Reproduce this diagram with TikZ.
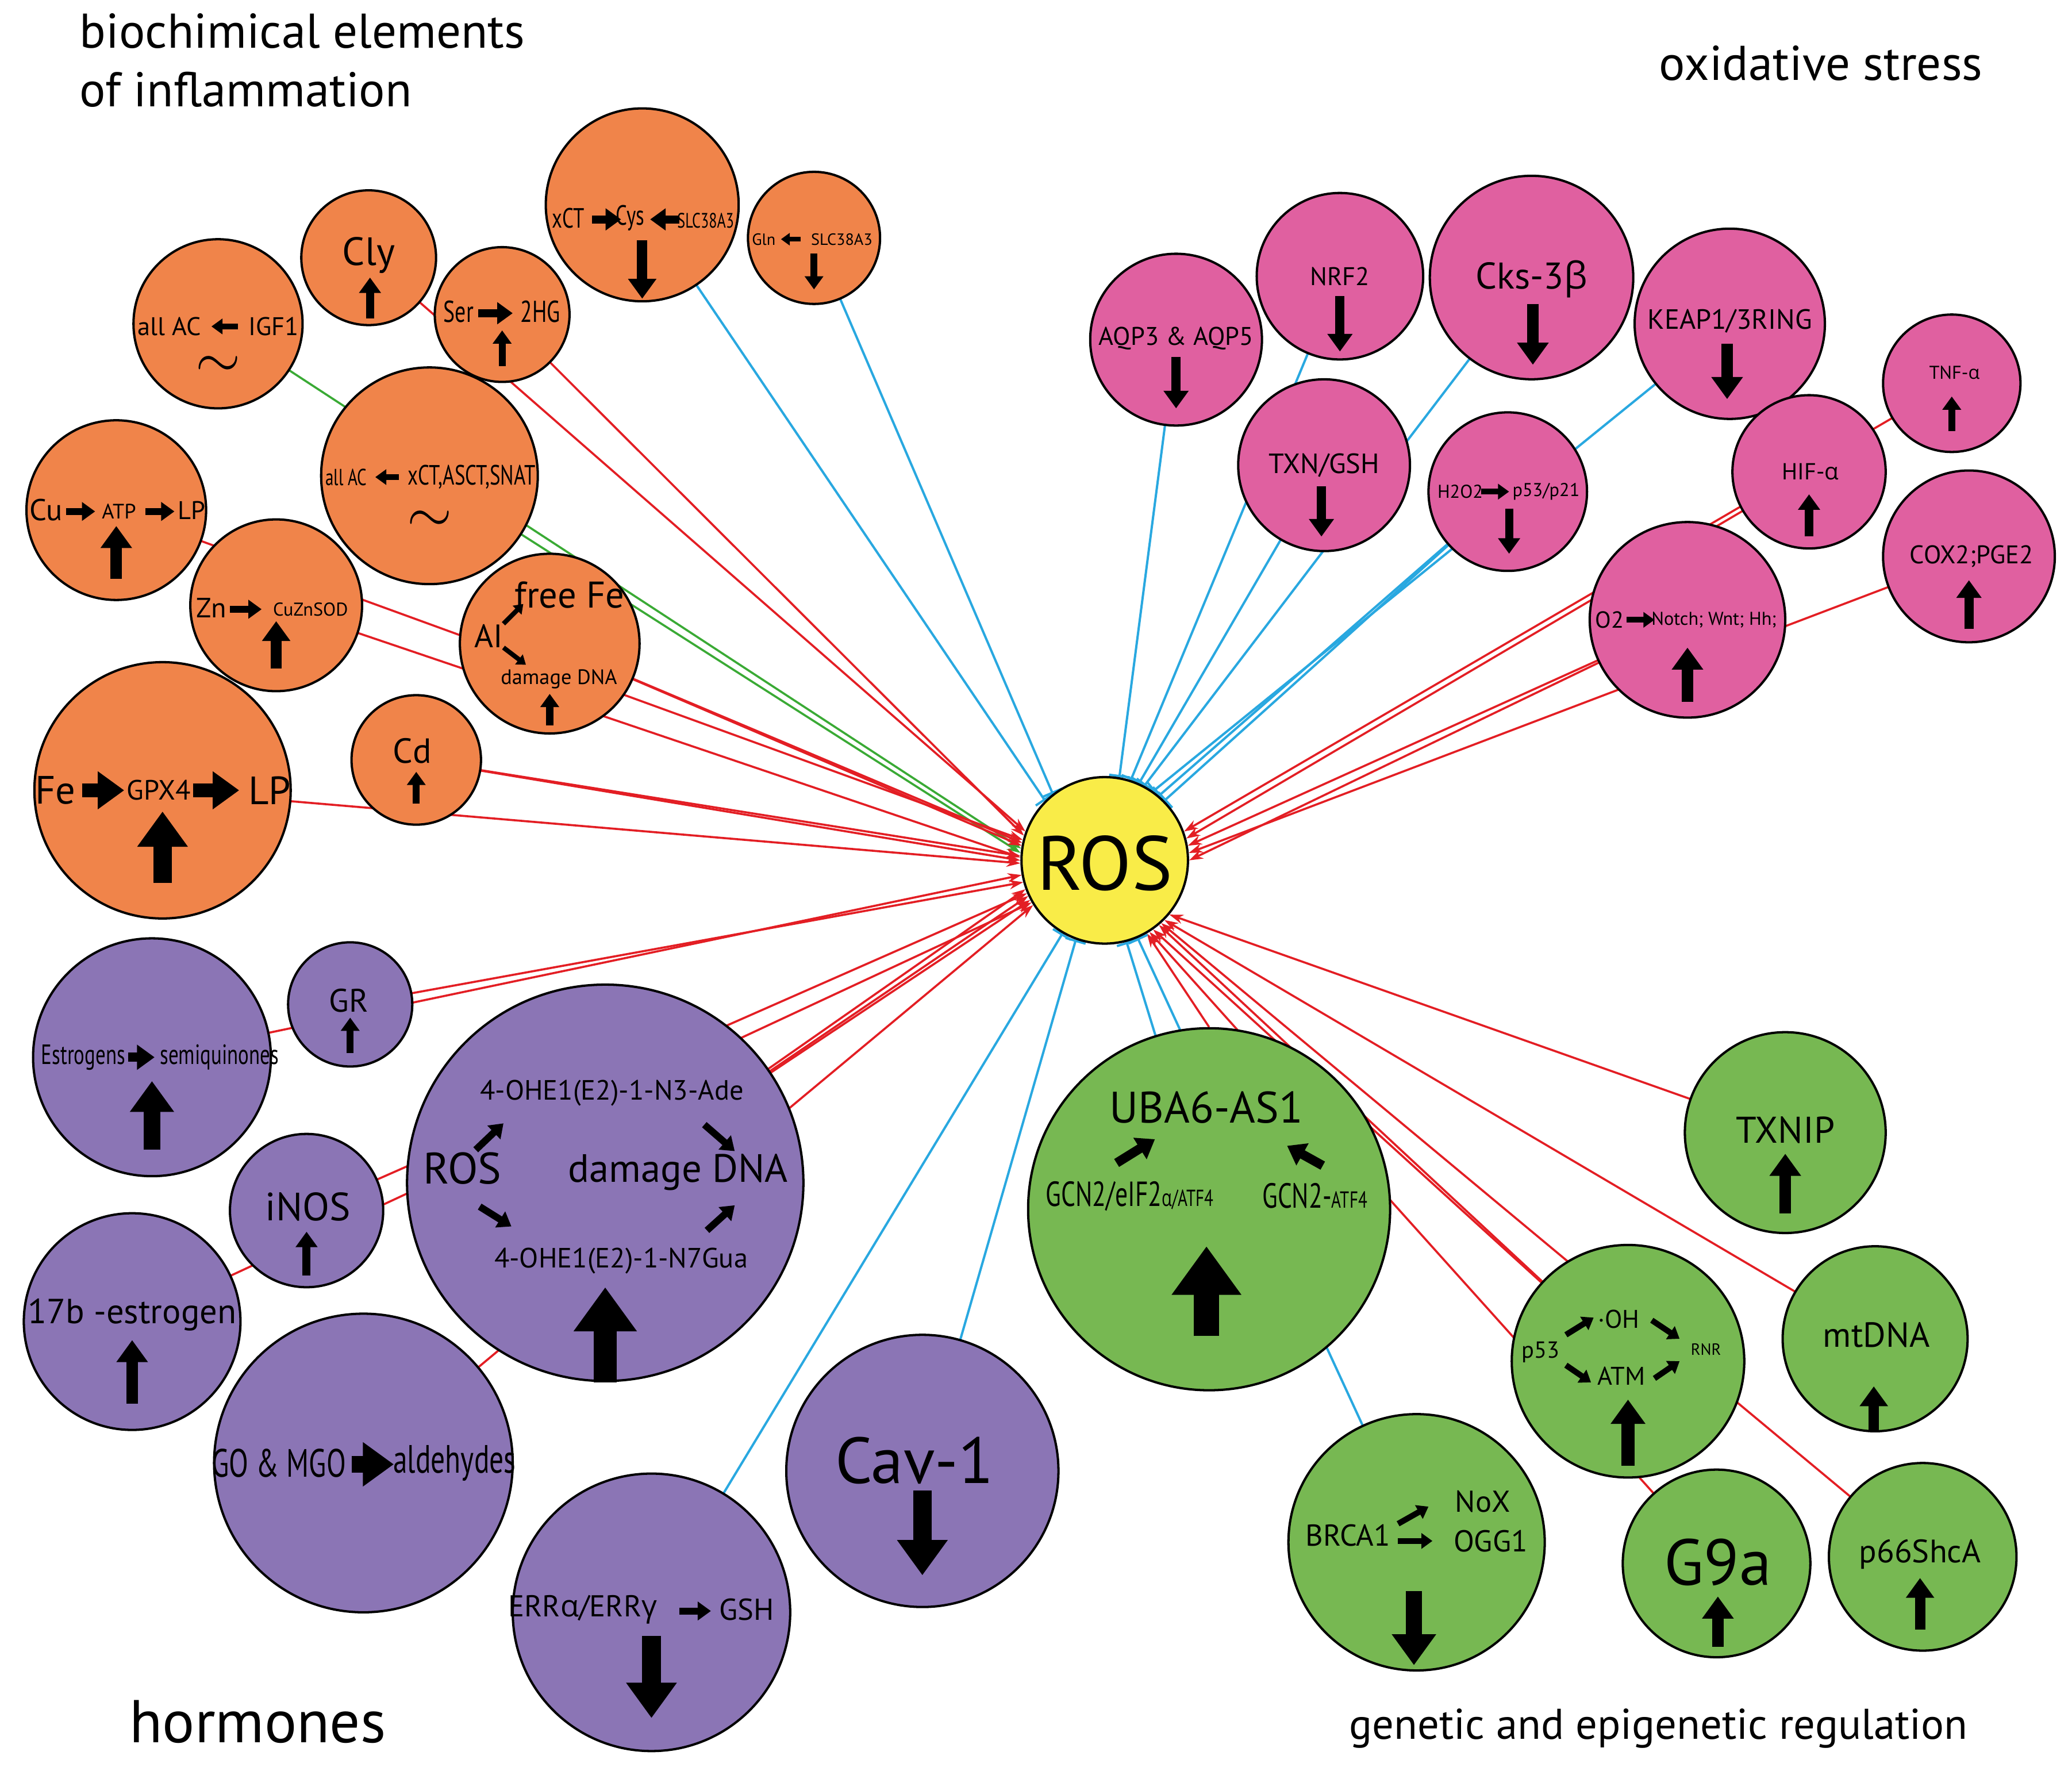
\documentclass[tikz,border=0pt]{standalone}
\usepackage{fontspec}
\setmainfont{PT Sans}
\newfontfamily\grk{Open Sans}
\usetikzlibrary{arrows.meta,backgrounds}
\definecolor{orng}{RGB}{240,132,74}
\definecolor{pnk}{RGB}{224,96,160}
\definecolor{purp}{RGB}{139,117,181}
\definecolor{grn}{RGB}{119,184,82}
\definecolor{yel}{RGB}{249,236,72}
\definecolor{redl}{RGB}{227,30,36}
\definecolor{bluel}{RGB}{41,168,224}
\definecolor{grnl}{RGB}{58,170,53}
\newcommand\fsz[1]{\fontsize{#1}{\dimexpr #1*6/5\relax}\selectfont}
\newcommand\nar[1]{\scalebox{0.72}[1]{#1}}
\newcommand\gr[1]{{\grk #1}}
\tikzset{
  bub/.style={circle,draw=black,line width=1pt,inner sep=0pt,minimum size=#1},
  lab/.style={inner sep=0pt,font=\fsz{#1}},
  tld/.style={inner sep=0pt,font=\fsz{#1},text height=0.3em,text depth=0pt},
  fat/.style={line width=#1,-{Triangle[length=0pt 1.9 0,width=0pt 2.6 0]}},
  act/.style={draw=redl,line width=0.9pt,-{Stealth[length=6pt,width=4pt]}},
  gact/.style={draw=grnl,line width=0.9pt,-{Stealth[length=6pt,width=4pt]}},
  inh/.style={draw=bluel,line width=1pt,-{Bar[width=9pt]}},
}
\begin{document}
\begin{tikzpicture}[x=0.02cm,y=-0.02cm]
\useasboundingbox (0,0) rectangle (1568,1340);
% titles
\node[lab=21pt,anchor=north west,align=left] (t1) at (60,10) {biochimical elements\\of inflammation};
\node[lab=21pt] (t2) at (1378,48) {oxidative stress};
\node[lab=26pt] (t3) at (195,1303) {hormones};
\node[lab=18.5pt] (t4) at (1255,1308) {genetic and epigenetic regulation};
% ROS
\node[bub=2.52cm,fill=yel] (ros) at (836,651) {};
\node[lab=33pt] (rost) at (836,653) {ROS};
% orange
\node[bub=2.92cm,fill=orng] (xct) at (486,155) {};
\node[bub=2cm,fill=orng] (gln) at (616,180) {};
\node[bub=2.04cm,fill=orng] (cly) at (279,195) {};
\node[bub=2.04cm,fill=orng] (ser) at (380,238) {};
\node[bub=2.56cm,fill=orng] (igf) at (165,245) {};
\node[bub=3.28cm,fill=orng] (allac) at (325,360) {};
\node[bub=2.72cm,fill=orng] (cu) at (88,386) {};
\node[bub=2.6cm,fill=orng] (zn) at (209,458) {};
\node[bub=2.72cm,fill=orng] (ffe) at (416,487) {};
\node[bub=3.88cm,fill=orng] (fe) at (123,598) {};
\node[bub=1.96cm,fill=orng] (cd) at (315,575) {};
% pink
\node[bub=2.6cm,fill=pnk] (aqp) at (890,257) {};
\node[bub=2.52cm,fill=pnk] (nrf) at (1014,209) {};
\node[bub=3.08cm,fill=pnk] (cks) at (1159,210) {};
\node[bub=2.88cm,fill=pnk] (keap) at (1309,245) {};
\node[bub=2.08cm,fill=pnk] (tnf) at (1477,290) {};
\node[bub=2.6cm,fill=pnk] (txn) at (1002,352) {};
\node[bub=2.4cm,fill=pnk] (hoo) at (1141,372) {};
\node[bub=2.32cm,fill=pnk] (hif) at (1369,357) {};
\node[bub=2.6cm,fill=pnk] (cox) at (1490,421) {};
\node[bub=2.96cm,fill=pnk] (otwo) at (1277,469) {};
% purple
\node[bub=3.6cm,fill=purp] (estr) at (115,800) {};
\node[bub=1.88cm,fill=purp] (gr) at (265,760) {};
\node[bub=6cm,fill=purp] (ohe) at (458,895) {};
\node[bub=2.32cm,fill=purp] (inos) at (232,916) {};
\node[bub=3.28cm,fill=purp] (sevb) at (100,1000) {};
\node[bub=4.52cm,fill=purp] (mgo) at (275,1107) {};
\node[bub=4.2cm,fill=purp] (err) at (493,1220) {};
\node[bub=4.12cm,fill=purp] (cav) at (698,1113) {};
% green
\node[bub=5.48cm,fill=grn] (uba) at (915,915) {};
\node[bub=3.04cm,fill=grn] (txnip) at (1351,857) {};
\node[bub=3.52cm,fill=grn] (pft) at (1232,1030) {};
\node[bub=2.8cm,fill=grn] (mtd) at (1419,1013) {};
\node[bub=3.88cm,fill=grn] (brca) at (1072,1167) {};
\node[bub=2.84cm,fill=grn] (gnine) at (1299,1183) {};
\node[bub=2.84cm,fill=grn] (psix) at (1455,1178) {};
% connectors
\begin{scope}[on background layer]
\draw[act] (cly.center) -- (ros.160);
\draw[act] (ser.center) -- (ros.163);
\draw[gact] (igf.center) -- (ros.172);
\draw[gact] (allac.center) -- (ros.175);
\draw[act] (cu.center) -- (ros.166);
\draw[act] (zn.center) -- (ros.178);
\draw[act] (ffe.center) -- (ros.168);
\draw[act] (ffe.center) -- (ros.170);
\draw[act] (fe.center) -- (ros.182);
\draw[act] (cd.center) -- (ros.177);
\draw[act] (cd.center) -- (ros.180);
\draw[inh] (xct.center) -- (ros.135);
\draw[inh] (gln.center) -- (ros.128);
\draw[inh] (aqp.center) -- (ros.80);
\draw[inh] (nrf.center) -- (ros.72);
\draw[inh] (cks.center) -- (ros.62);
\draw[inh] (keap.center) -- (ros.55);
\draw[inh] (txn.center) -- (ros.66);
\draw[inh] (hoo.center) -- (ros.50);
\draw[inh] (hoo.center) -- (ros.45);
\draw[act] (tnf.center) -- (ros.20);
\draw[act] (hif.center) -- (ros.15);
\draw[act] (cox.center) -- (ros.5);
\draw[act] (otwo.center) -- (ros.10);
\draw[act] (otwo.center) -- (ros.0);
\draw[act] (gr.center) -- (ros.195);
\draw[act] (estr.center) -- (ros.190);
\draw[act] (ohe.center) -- (ros.200);
\draw[act] (ohe.center) -- (ros.205);
\draw[act] (ohe.center) -- (ros.208);
\draw[act] (inos.center) -- (ros.203);
\draw[act] (sevb.center) -- (ros.210);
\draw[act] (mgo.center) -- (ros.212);
\draw[inh] (err.center) -- (ros.240);
\draw[inh] (cav.center) -- (ros.250);
\draw[inh] (uba.center) -- (ros.285);
\draw[act] (uba.north) -- (ros.300);
\draw[act] (txnip.center) -- (ros.320);
\draw[act] (pft.center) -- (ros.305);
\draw[act] (pft.center) -- (ros.310);
\draw[act] (mtd.center) -- (ros.315);
\draw[inh] (brca.center) -- (ros.293);
\draw[act] (gnine.center) -- (ros.302);
\draw[act] (psix.center) -- (ros.312);
\end{scope}
% orange contents
\node[lab=12pt] (xa) at (430,165) {\nar{xCT}};
\draw[fat=3.5pt] (448,166) -- (470,166);
\node[lab=12pt] (xb) at (477,165) {\nar{Cys}};
\draw[fat=3.5pt] (514,166) -- (492,166);
\node[lab=9pt] (xc) at (534,167) {\nar{SLC38A3}};
\draw[fat=4.5pt] (486,182) -- (486,226);
\node[lab=7pt] (ga) at (578,181) {Gln};
\draw[fat=2pt] (606,181) -- (591,181);
\node[lab=7pt] (gb) at (637,181) {SLC38A3};
\draw[fat=3pt] (616,192) -- (616,219);
\node[lab=17pt] (ca) at (279,193) {Cly};
\draw[fat=3.5pt] (280,241) -- (280,210);
\node[lab=13pt] (sa) at (347,236) {\nar{Ser}};
\draw[fat=3.5pt] (362,237) -- (388,237);
\node[lab=13pt] (sb) at (409,236) {\nar{2HG}};
\draw[fat=3pt] (380,277) -- (380,250);
\node[lab=11pt] (ia) at (128,247) {all AC};
\draw[fat=2.5pt] (180,247) -- (160,247);
\node[lab=11pt] (ib) at (207,247) {IGF1};
\node[tld=30pt] (ic) at (165,283) {$\sim$};
\node[lab=10pt] (aa) at (262,361) {\nar{all AC}};
\draw[fat=2.5pt] (302,361) -- (284,361);
\node[lab=12pt] (ab) at (357,361) {\nar{xCT,ASCT,SNAT}};
\node[tld=36pt] (ac) at (325,400) {$\sim$};
\node[lab=13pt] (cua) at (35,386) {Cu};
\draw[fat=3pt] (50,387) -- (72,387);
\node[lab=9pt] (cub) at (90,387) {ATP};
\draw[fat=3pt] (110,387) -- (132,387);
\node[lab=11pt] (cuc) at (145,386) {LP};
\draw[fat=5pt] (88,438) -- (88,398);
\node[lab=12pt] (za) at (160,460) {Zn};
\draw[fat=3pt] (174,461) -- (198,461);
\node[lab=8pt] (zb) at (235,461) {CuZnSOD};
\draw[fat=4.5pt] (209,506) -- (209,470);
\node[lab=16pt] (fa) at (431,450) {free Fe};
\node[lab=14pt] (fb) at (370,481) {AI};
\draw[fat=2pt] (381,472) -- (396,457);
\draw[fat=2pt] (381,490) -- (398,503);
\node[lab=9pt] (fc) at (423,514) {damage DNA};
\draw[fat=3pt] (416,549) -- (416,525);
\node[lab=17pt] (fea) at (42,598) {Fe};
\draw[fat=6pt] (62,598) -- (94,598);
\node[lab=12pt] (feb) at (120,598) {GPX4};
\draw[fat=6pt] (146,598) -- (181,598);
\node[lab=17pt] (fec) at (204,598) {LP};
\draw[fat=8pt] (123,668) -- (123,614);
\node[lab=15pt] (cda) at (312,568) {Cd};
\draw[fat=3pt] (315,608) -- (315,584);
% pink contents
\node[lab=11pt] (pa) at (890,256) {AQP3 \& AQP5};
\draw[fat=4pt] (890,270) -- (890,309);
\node[lab=11pt] (pb) at (1014,209) {NRF2};
\draw[fat=4pt] (1014,224) -- (1014,266);
\node[lab=16pt] (pc) at (1159,211) {Cks-3\gr{β}};
\draw[fat=5pt] (1160,230) -- (1160,276);
\node[lab=12pt] (pd) at (1309,243) {KEAP1/3RING};
\draw[fat=5pt] (1307,260) -- (1307,302);
\node[lab=8pt] (pe) at (1479,282) {TNF-\gr{α}};
\draw[fat=3pt] (1477,326) -- (1477,300);
\node[lab=12pt] (pf) at (1002,352) {TXN/GSH};
\draw[fat=4pt] (1000,368) -- (1000,406);
\node[lab=8pt] (pg) at (1105,372) {H2O2};
\draw[fat=2.5pt] (1121,372) -- (1142,372);
\node[lab=8pt] (ph) at (1170,372) {p53/p21};
\draw[fat=3.5pt] (1142,385) -- (1142,419);
\node[lab=10pt] (pi) at (1370,357) {HIF-\gr{α}};
\draw[fat=3.5pt] (1369,406) -- (1369,374);
\node[lab=11pt] (pj) at (1492,421) {COX2;PGE2};
\draw[fat=4pt] (1490,476) -- (1490,439);
\node[lab=10pt] (pk) at (1218,469) {O2};
\draw[fat=2.5pt] (1231,469) -- (1252,469);
\node[lab=8pt] (pl) at (1297,469) {Notch; Wnt; Hh;};
\draw[fat=5pt] (1277,531) -- (1277,490);
% purple contents
\node[lab=12pt] (ua) at (63,800) {\nar{Estrogens}};
\draw[fat=4pt] (97,800) -- (117,800);
\node[lab=12pt] (ub) at (166,800) {\nar{semiquinones}};
\draw[fat=7pt] (115,870) -- (115,818);
\node[lab=14pt] (uc) at (264,757) {GR};
\draw[fat=3pt] (265,797) -- (265,770);
\node[lab=12pt] (ud) at (463,827) {4-OHE1(E2)-1-N3-Ade};
\node[lab=19pt] (ue) at (350,884) {ROS};
\node[lab=17pt] (uf) at (513,887) {damage DNA};
\node[lab=12pt] (ug) at (470,954) {4-OHE1(E2)-1-N7Gua};
\draw[fat=3pt] (360,870) -- (381,850);
\draw[fat=3pt] (363,913) -- (387,928);
\draw[fat=3pt] (533,851) -- (556,871);
\draw[fat=3pt] (535,931) -- (556,912);
\draw[fat=10pt] (458,1046) -- (458,974);
\node[lab=17pt] (uh) at (233,913) {iNOS};
\draw[fat=3.5pt] (232,965) -- (232,932);
\node[lab=15pt] (ui) at (100,995) {17b -estrogen};
\draw[fat=5pt] (100,1062) -- (100,1014);
\node[lab=17pt] (uj) at (211,1107) {\nar{GO \& MGO}};
\draw[fat=7pt] (266,1108) -- (298,1108);
\node[lab=17pt] (uk) at (344,1107) {\nar{aldehydes}};
\node[lab=13pt] (ul) at (441,1218) {ERR\gr{α}/ERR\gr{γ}};
\draw[fat=3pt] (514,1219) -- (538,1219);
\node[lab=13pt] (um) at (565,1218) {GSH};
\draw[fat=8pt] (493,1238) -- (493,1300);
\node[lab=28pt] (un) at (692,1105) {Cav-1};
\draw[fat=8pt] (698,1128) -- (698,1192);
% green contents
\node[lab=19pt] (va) at (913,838) {UBA6-AS1};
\node[lab=15pt] (vb) at (855,905) {\nar{GCN2/eIF2{\fsz{10pt}\gr{α}/ATF4}}};
\node[lab=15pt] (vc) at (995,905) {\nar{GCN2-{\fsz{10pt}ATF4}}};
\draw[fat=4pt] (845,880) -- (874,862);
\draw[fat=4pt] (1001,882) -- (974,867);
\draw[fat=11pt] (913,1011) -- (913,943);
\node[lab=16pt] (vd) at (1351,855) {TXNIP};
\draw[fat=5pt] (1351,918) -- (1351,873);
\node[lab=10pt] (ve) at (1166,1023) {p53};
\node[lab=11pt] (vf) at (1225,998) {·OH};
\node[lab=11pt] (vg) at (1227,1041) {ATM};
\node[lab=7pt] (vh) at (1291,1021) {RNR};
\draw[fat=2.5pt] (1185,1010) -- (1206,997);
\draw[fat=2.5pt] (1185,1033) -- (1204,1046);
\draw[fat=2.5pt] (1250,999) -- (1271,1013);
\draw[fat=2.5pt] (1252,1043) -- (1271,1030);
\draw[fat=5.5pt] (1232,1109) -- (1232,1059);
\node[lab=15pt] (vi) at (1420,1010) {mtDNA};
\draw[fat=4.5pt] (1418,1082) -- (1418,1049);
\node[lab=13pt] (vj) at (1020,1162) {BRCA1};
\node[lab=13pt] (vk) at (1122,1136) {NoX};
\node[lab=13pt] (vl) at (1128,1166) {OGG1};
\draw[fat=2.5pt] (1058,1153) -- (1081,1140);
\draw[fat=2.5pt] (1058,1166) -- (1084,1166);
\draw[fat=7pt] (1070,1204) -- (1070,1260);
\node[lab=28pt] (vm) at (1300,1182) {G9a};
\draw[fat=5pt] (1300,1246) -- (1300,1208);
\node[lab=14pt] (vn) at (1453,1176) {p66ShcA};
\draw[fat=4.5pt] (1453,1233) -- (1453,1194);
\end{tikzpicture}
\end{document}
